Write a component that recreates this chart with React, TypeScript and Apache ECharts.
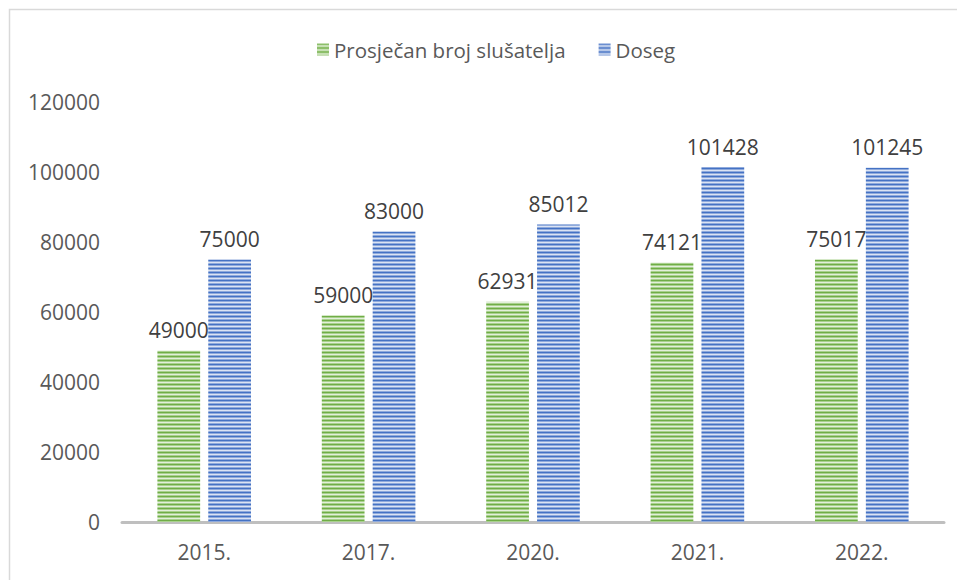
import React, { useEffect, useRef } from "react";
import * as echarts from "echarts";

const categories = ["2015.", "2017.", "2020.", "2021.", "2022."];
const seriesNames = ["Prosječan broj slušatelja", "Doseg"];
const listenersValues = [49000, 59000, 62931, 74121, 75017];
const reachValues = [75000, 83000, 85012, 101428, 101245];
const yTicks = [0, 20000, 40000, 60000, 80000, 100000, 120000];

function makeStripes(dark: string, mid: string, light: string) {
  const c = document.createElement("canvas");
  c.width = 4;
  c.height = 4;
  const ctx = c.getContext("2d")!;
  const rows = [dark, mid, light, mid];
  rows.forEach((col, i) => {
    ctx.fillStyle = col;
    ctx.fillRect(0, i, 4, 1);
  });
  return { image: c, repeat: "repeat" } as any;
}

export default function App() {
  const ref = useRef<HTMLDivElement>(null);
  useEffect(() => {
    if (!ref.current) return;
    const chart = echarts.init(ref.current, undefined, { renderer: "svg" });
    const green = makeStripes("#70ad47", "#a9d18e", "#e2efda");
    const blue = makeStripes("#4472c4", "#8faadc", "#dae3f3");
    const font = "Open Sans, Noto Sans, sans-serif";
    chart.setOption({
      animation: false,
      textStyle: { fontFamily: font },
      graphic: [
        {
          type: "rect",
          shape: { x: 9.5, y: 9.5, width: 960, height: 600 },
          style: { fill: "none", stroke: "#d9d9d9", lineWidth: 1.5 },
          silent: true,
        },
      ],
      legend: {
        left: 312,
        top: 34,
        itemWidth: 12,
        itemHeight: 12,
        itemGap: 33,
        icon: "rect",
        textStyle: { fontSize: 20.5, color: "#595959", fontFamily: font },
        data: seriesNames,
      },
      grid: { left: 122, right: 13, top: 102, bottom: 58 },
      xAxis: {
        type: "category",
        data: categories,
        axisLine: { lineStyle: { color: "#bfbfbf", width: 3 } },
        axisTick: { show: false },
        axisLabel: { fontSize: 21, color: "#595959", margin: 19, fontFamily: font },
      },
      yAxis: {
        type: "value",
        min: yTicks[0],
        max: yTicks[yTicks.length - 1],
        interval: 20000,
        splitLine: { show: false },
        axisLine: { show: false },
        axisTick: { show: false },
        axisLabel: {
          fontSize: 21,
          color: "#595959",
          margin: 22,
          fontFamily: font,
          formatter: (v: number) => String(v),
        },
      },
      series: [
        {
          name: seriesNames[0],
          type: "bar",
          data: listenersValues,
          barWidth: "26%",
          barGap: "19%",
          itemStyle: { color: green },
          label: {
            show: true,
            position: "top",
            distance: 10,
            fontSize: 21,
            color: "#404040",
            fontFamily: font,
          },
        },
        {
          name: seriesNames[1],
          type: "bar",
          data: reachValues,
          barWidth: "26%",
          itemStyle: { color: blue },
          label: {
            show: true,
            position: "top",
            distance: 10,
            fontSize: 21,
            color: "#404040",
            fontFamily: font,
          },
        },
      ],
    });
    return () => chart.dispose();
  }, []);
  return <div ref={ref} style={{ width: 957, height: 580, position: "absolute", left: 0, top: 0 }} />;
}
